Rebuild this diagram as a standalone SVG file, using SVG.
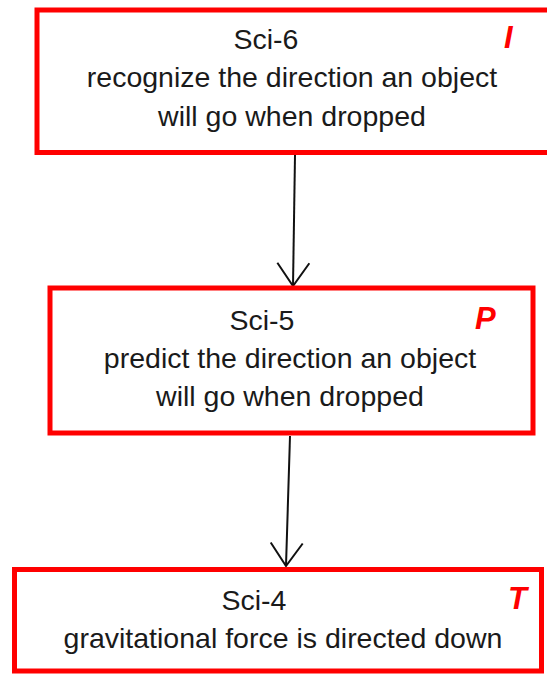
<svg xmlns="http://www.w3.org/2000/svg" width="547" height="674" viewBox="0 0 547 674">
<style>
.box{fill:#fff;stroke:#ff0000;stroke-width:5}
.t{font-family:"Liberation Sans",Arial,sans-serif;font-size:28.5px;fill:#1a1a1a;text-anchor:middle}
.k{font-family:"Liberation Sans",Arial,sans-serif;font-size:31px;font-weight:bold;font-style:italic;fill:#ff0000}
.c{stroke:#111;stroke-width:2;fill:none}
</style>
<defs>
<marker id="arr" markerUnits="userSpaceOnUse" markerWidth="50" markerHeight="50" viewBox="-25 -25 50 50" refX="0" refY="0" orient="auto">
<path d="M-23,-16 L0,0 L-23,16" fill="none" stroke="#111" stroke-width="2"/>
</marker>
</defs>
<rect x="0" y="0" width="547" height="674" fill="#fff"/>
<g id="connectors">
<line class="c" x1="295" y1="155" x2="293" y2="286" marker-end="url(#arr)"/>
<line class="c" x1="290" y1="436" x2="286" y2="566" marker-end="url(#arr)"/>
</g>
<g id="sci6">
<rect class="box" x="37" y="10" width="520" height="142.5"/>
<text class="t" x="266" y="49">Sci-6</text>
<text class="t" x="292" y="87">recognize the direction an object</text>
<text class="t" x="292" y="126">will go when dropped</text>
<text class="k" x="504" y="48">I</text>
</g>
<g id="sci5">
<rect class="box" x="50" y="288" width="483" height="145"/>
<text class="t" x="262" y="330">Sci-5</text>
<text class="t" x="290" y="368">predict the direction an object</text>
<text class="t" x="290" y="406">will go when dropped</text>
<text class="k" x="475" y="329">P</text>
</g>
<g id="sci4">
<rect class="box" x="14.5" y="569.5" width="527" height="101.5"/>
<text class="t" x="254" y="610">Sci-4</text>
<text class="t" x="283" y="648">gravitational force is directed down</text>
<text class="k" x="508" y="609">T</text>
</g>
</svg>
